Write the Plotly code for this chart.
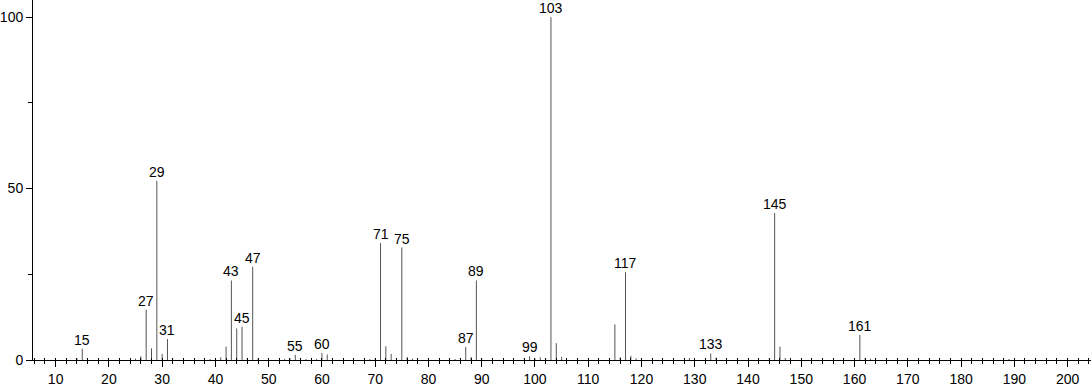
import plotly.graph_objects as go

# m/z and relative intensity
mz = [14, 15, 16, 25, 26, 27, 28, 29, 30, 31, 32, 39, 41, 42, 43, 44, 45, 46, 47, 48,
      53, 54, 55, 56, 57, 59, 60, 61, 69, 70, 71, 72, 73, 75, 76, 77, 85, 86, 87, 88,
      89, 90, 98, 99, 100, 101, 102, 103, 104, 105, 115, 116, 117, 118, 119, 129, 133,
      134, 144, 145, 146, 147, 161, 162, 163, 189]
intensity = [0.5, 3.3, 0.4, 0.4, 1.1, 14.7, 3.4, 52.2, 1.8, 6.1, 0.4, 0.3, 0.8, 3.9, 23.2,
             9.2, 9.7, 0.6, 27.2, 0.4, 0.3, 0.5, 1.5, 0.6, 0.3, 0.3, 2.0, 1.6, 0.3, 0.5,
             34.1, 4.0, 1.8, 32.8, 0.9, 0.4, 0.3, 0.5, 3.8, 0.9, 23.2, 0.5, 0.4, 1.1, 0.4,
             0.8, 0.5, 100.0, 4.9, 0.9, 10.4, 0.8, 25.6, 1.2, 0.5, 0.6, 1.9, 0.7, 0.6,
             42.9, 3.9, 0.6, 7.3, 0.6, 0.4, 0.3]
labeled = [15, 27, 29, 31, 43, 45, 47, 55, 60, 71, 75, 87, 89, 99, 103, 117, 133, 145, 161]

xs, ys = [], []
for m, v in zip(mz, intensity):
    xs += [m, m, None]
    ys += [0, v, None]

fig = go.Figure()
fig.add_trace(go.Scatter(x=xs, y=ys, mode="lines",
                         line=dict(color="#555555", width=1),
                         hoverinfo="skip", showlegend=False))

lookup = dict(zip(mz, intensity))
for m in labeled:
    fig.add_annotation(x=m, y=lookup[m], text=str(m), showarrow=False,
                       xanchor="center", yanchor="bottom", yshift=-1,
                       font=dict(family="Liberation Sans, Arial", size=14, color="#000"))

FONT = dict(family="Liberation Sans, Arial", size=14, color="#000")
fig.update_layout(
    width=1091, height=387,
    margin=dict(l=30, r=0, t=0, b=25),
    plot_bgcolor="white", paper_bgcolor="white",
    font=FONT,
    xaxis=dict(range=[5.75, 204.4], tickmode="linear", tick0=10, dtick=10,
               showgrid=False, zeroline=False, showline=True, linecolor="#000",
               linewidth=1, ticks="outside", ticklen=6, tickcolor="#000",
               minor=dict(tick0=10, dtick=2, ticks="outside", ticklen=3, tickcolor="#000"),
               tickfont=FONT),
    xaxis2=dict(range=[5.75, 204.4], overlaying="x", anchor="y", side="bottom",
                tickmode="linear", tick0=10, dtick=2, ticks="inside", ticklen=2,
                tickcolor="#000", showticklabels=False, showgrid=False,
                zeroline=False, showline=False),
    yaxis=dict(range=[0, 105], tickvals=[0, 50, 100], showgrid=False, zeroline=False,
               showline=True, linecolor="#000", linewidth=1, ticks="outside",
               ticklen=6, tickcolor="#000",
               minor=dict(tickvals=[25, 75], ticks="outside", ticklen=4, tickcolor="#000"),
               tickfont=FONT),
)
fig.add_trace(go.Scatter(x=[None], y=[None], xaxis="x2", showlegend=False, hoverinfo="skip"))

fig.write_html("out.html")
